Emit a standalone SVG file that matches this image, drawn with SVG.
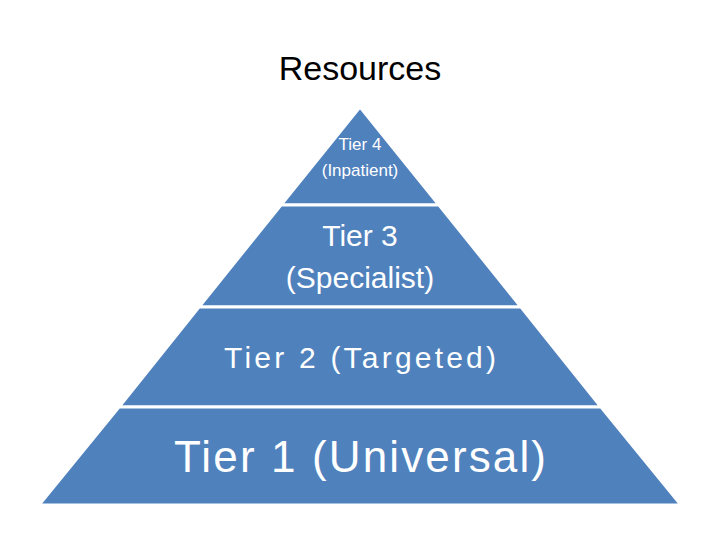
<svg xmlns="http://www.w3.org/2000/svg" width="720" height="540" viewBox="0 0 720 540">
<style>
.t{fill:#4F81BD;stroke:#fff;stroke-width:3}
.l{fill:#fff;font-family:"Liberation Sans",Arial,sans-serif;text-anchor:middle}
</style>
<rect width="720" height="540" fill="#fff"/>
<text x="360" y="80" font-family="Liberation Sans,Arial,sans-serif" font-size="34" text-anchor="middle" fill="#000">Resources</text>
<g id="tier4"><polygon class="t" points="360,107 439,205 281,205"/>
<text class="l" font-size="17" x="360" y="150">Tier 4</text><text class="l" font-size="17" x="360" y="176">(Inpatient)</text></g>
<g id="tier3"><polygon class="t" points="281,205 439,205 521,307 199,307"/>
<text class="l" font-size="30" x="360" y="246">Tier 3</text><text class="l" font-size="30" x="360" y="288">(Specialist)</text></g>
<g id="tier2"><polygon class="t" points="199,307 521,307 601,407 119,407"/>
<text class="l" font-size="30" x="360" y="368" textLength="272">Tier 2 (Targeted)</text></g>
<g id="tier1"><polygon class="t" points="119,407 601,407 681,505 39,505"/>
<text class="l" font-size="44" x="360" y="472" textLength="372">Tier 1 (Universal)</text></g>
</svg>
